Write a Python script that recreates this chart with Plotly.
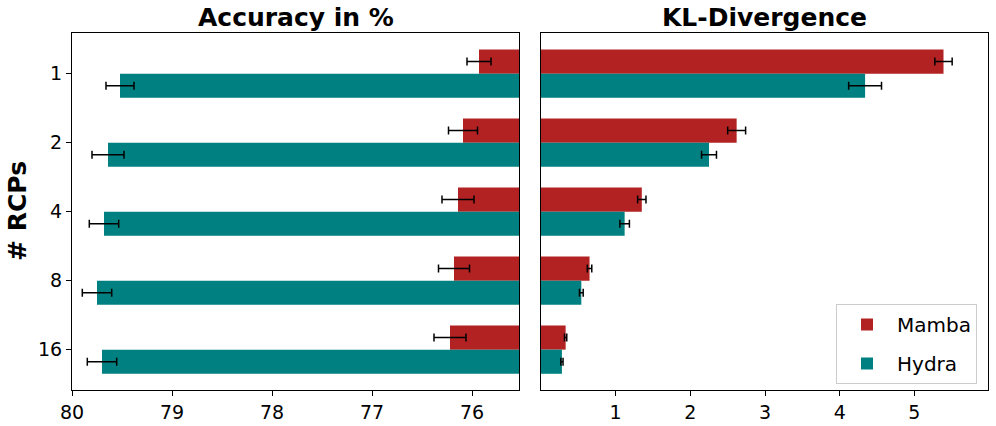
import plotly.graph_objects as go

categories = ["1", "2", "4", "8", "16"]
series_names = ["Mamba", "Hydra"]

acc_mamba = [75.93, 76.09, 76.14, 76.18, 76.22]
acc_mamba_err = [0.12, 0.145, 0.16, 0.155, 0.16]
acc_hydra = [79.52, 79.64, 79.68, 79.75, 79.70]
acc_hydra_err = [0.14, 0.16, 0.147, 0.147, 0.147]

kl_mamba = [5.39, 2.62, 1.35, 0.65, 0.33]
kl_mamba_err = [0.116, 0.12, 0.056, 0.03, 0.015]
kl_hydra = [4.34, 2.25, 1.12, 0.54, 0.28]
kl_hydra_err = [0.22, 0.1, 0.064, 0.025, 0.015]

acc_ticks = [80, 79, 78, 77, 76]
kl_ticks = [1, 2, 3, 4, 5]

colors = {"Mamba": "#B22222", "Hydra": "#008080"}
FONT = "DejaVu Sans"

fig = go.Figure()

def add_bars(vals, errs, name, xa, ya, show):
    fig.add_trace(go.Bar(
        y=categories, x=vals, orientation="h", name=name,
        marker=dict(color=colors[name], line=dict(width=0)),
        error_x=dict(type="data", array=errs, color="black", thickness=1.5, width=4),
        xaxis=xa, yaxis=ya, showlegend=show, legendgroup=name,
    ))

add_bars(acc_mamba, acc_mamba_err, "Mamba", "x", "y", False)
add_bars(acc_hydra, acc_hydra_err, "Hydra", "x", "y", False)
add_bars(kl_mamba, kl_mamba_err, "Mamba", "x2", "y2", True)
add_bars(kl_hydra, kl_hydra_err, "Hydra", "x2", "y2", True)

W, H = 996, 426
xd1 = [72 / W, 519 / W]
xd2 = [541 / W, 988.3 / W]
yd = [36 / H, 392.7 / H]

axis_common = dict(showline=True, linecolor="black", linewidth=1, mirror=True,
                   showgrid=False, zeroline=False, ticks="outside", ticklen=5,
                   tickcolor="black", automargin=False,
                   tickfont=dict(family=FONT, size=19, color="black"))

fig.update_layout(
    width=W, height=H, autosize=False,
    margin=dict(l=0, r=0, t=0, b=0, pad=0),
    paper_bgcolor="white", plot_bgcolor="white",
    barmode="group", bargap=0.3, bargroupgap=0,
    font=dict(family=FONT, color="black"),
    xaxis=dict(domain=xd1, anchor="y", range=[80, 75.53], tickvals=acc_ticks,
               ticktext=[str(t) for t in acc_ticks], **axis_common),
    yaxis=dict(domain=yd, anchor="x", type="category", categoryorder="array",
               categoryarray=categories, range=[4.585, -0.585], **axis_common),
    xaxis2=dict(domain=xd2, anchor="y2", range=[0, 5.99], tickvals=kl_ticks,
                ticktext=[str(t) for t in kl_ticks], **axis_common),
    yaxis2=dict(domain=yd, anchor="x2", type="category", categoryorder="array",
                categoryarray=categories, range=[4.585, -0.585],
                **{**axis_common, "ticks": "", "showticklabels": False}),
    legend=dict(x=977 / W, y=42 / H, xanchor="right", yanchor="bottom",
                bgcolor="white", bordercolor="#cccccc", borderwidth=1,
                font=dict(family=FONT, size=20, color="black"),
                itemwidth=50),
    annotations=[
        dict(text="<b>Accuracy in %</b>", x=(xd1[0] + xd1[1]) / 2, y=1 - 17 / H,
             xref="paper", yref="paper", showarrow=False, xanchor="center", yanchor="middle",
             font=dict(family=FONT, size=25, color="black")),
        dict(text="<b>KL-Divergence</b>", x=(xd2[0] + xd2[1]) / 2, y=1 - 17 / H,
             xref="paper", yref="paper", showarrow=False, xanchor="center", yanchor="middle",
             font=dict(family=FONT, size=25, color="black")),
        dict(text="<b># RCPs</b>", x=18 / W, y=1 - 211 / H, textangle=-90,
             xref="paper", yref="paper", showarrow=False, xanchor="center", yanchor="middle",
             font=dict(family=FONT, size=25, color="black")),
    ],
)

fig.write_html("out.html", config={"displayModeBar": False},
               post_script="document.body.style.margin='0';document.body.style.overflow='hidden';")
